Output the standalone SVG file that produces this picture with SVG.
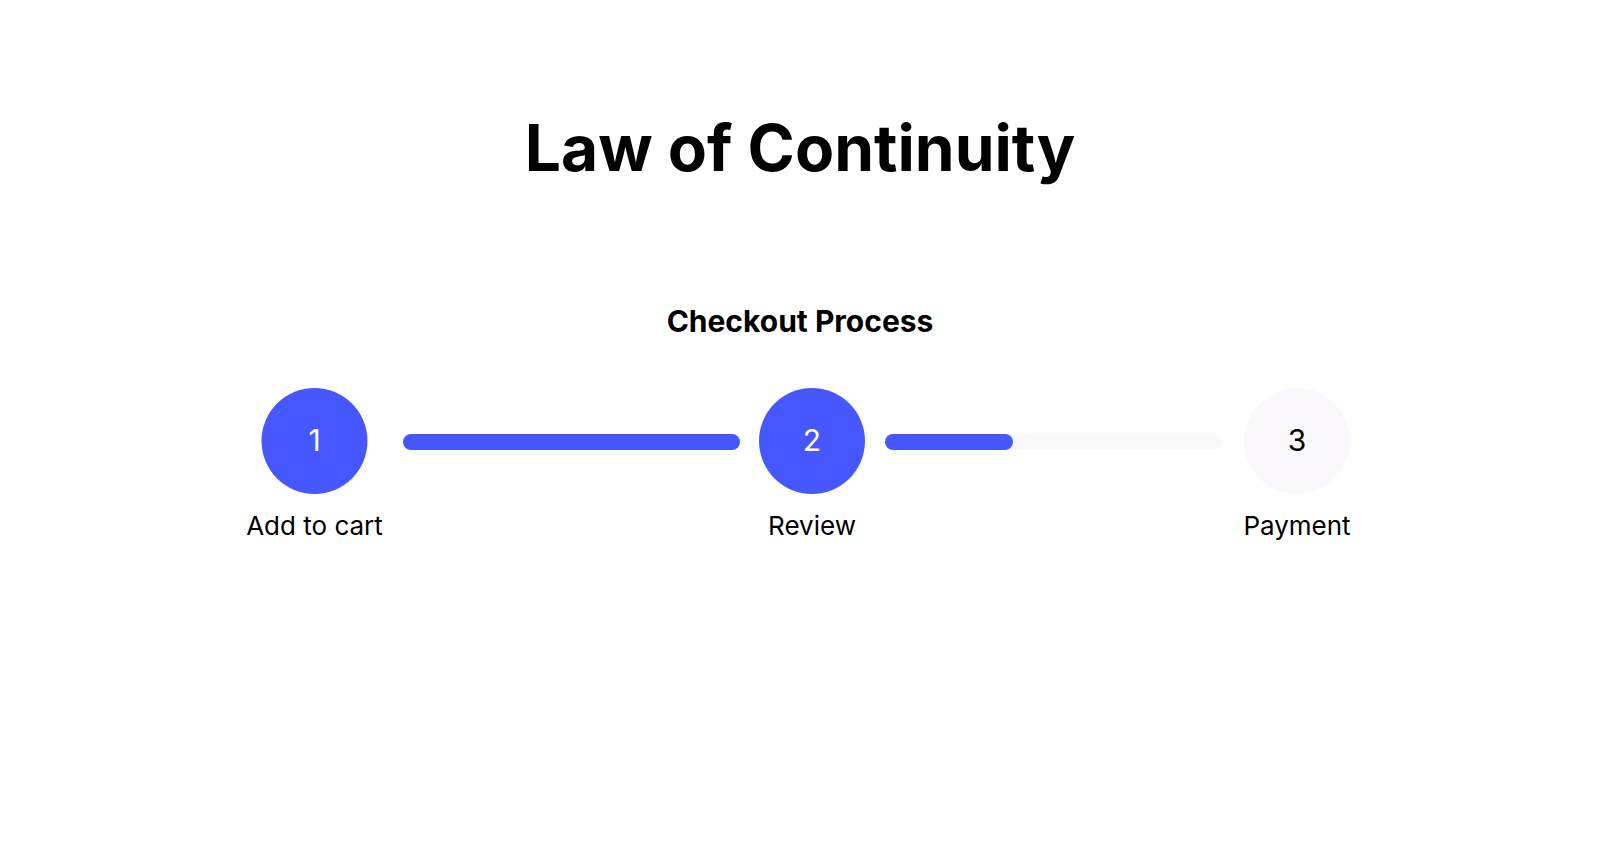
<svg xmlns="http://www.w3.org/2000/svg" width="1601" height="841" viewBox="0 0 1601 841">
<style>
text{font-family:Inter,"Noto Sans",sans-serif;text-anchor:middle;fill:#000}
.lbl{font-size:26px}
.num{font-size:30px}
.blue{fill:#4757FF}
.gray{fill:#FAF8FC}
</style>
<rect width="1601" height="841" fill="#fff"/>
<text x="800" y="171" font-size="64" font-weight="700">Law of Continuity</text>
<text x="800" y="332" font-size="30" font-weight="700">Checkout Process</text>
<g id="connectors">
<rect x="403" y="434" width="337" height="16" rx="8" class="blue"/>
<rect x="885" y="434" width="337" height="16" rx="8" class="gray"/>
<rect x="885" y="434" width="128" height="16" rx="8" class="blue"/>
</g>
<g id="step1"><circle cx="314.5" cy="441" r="53" class="blue"/><text x="314.5" y="451" class="num" style="fill:#fff">1</text><text x="314.5" y="535" class="lbl">Add to cart</text></g>
<g id="step2"><circle cx="812" cy="441" r="53" class="blue"/><text x="812" y="451" class="num" style="fill:#fff">2</text><text x="812" y="535" class="lbl">Review</text></g>
<g id="step3"><circle cx="1297" cy="441" r="53" class="gray"/><text x="1297" y="451" class="num">3</text><text x="1297" y="535" class="lbl">Payment</text></g>
</svg>
